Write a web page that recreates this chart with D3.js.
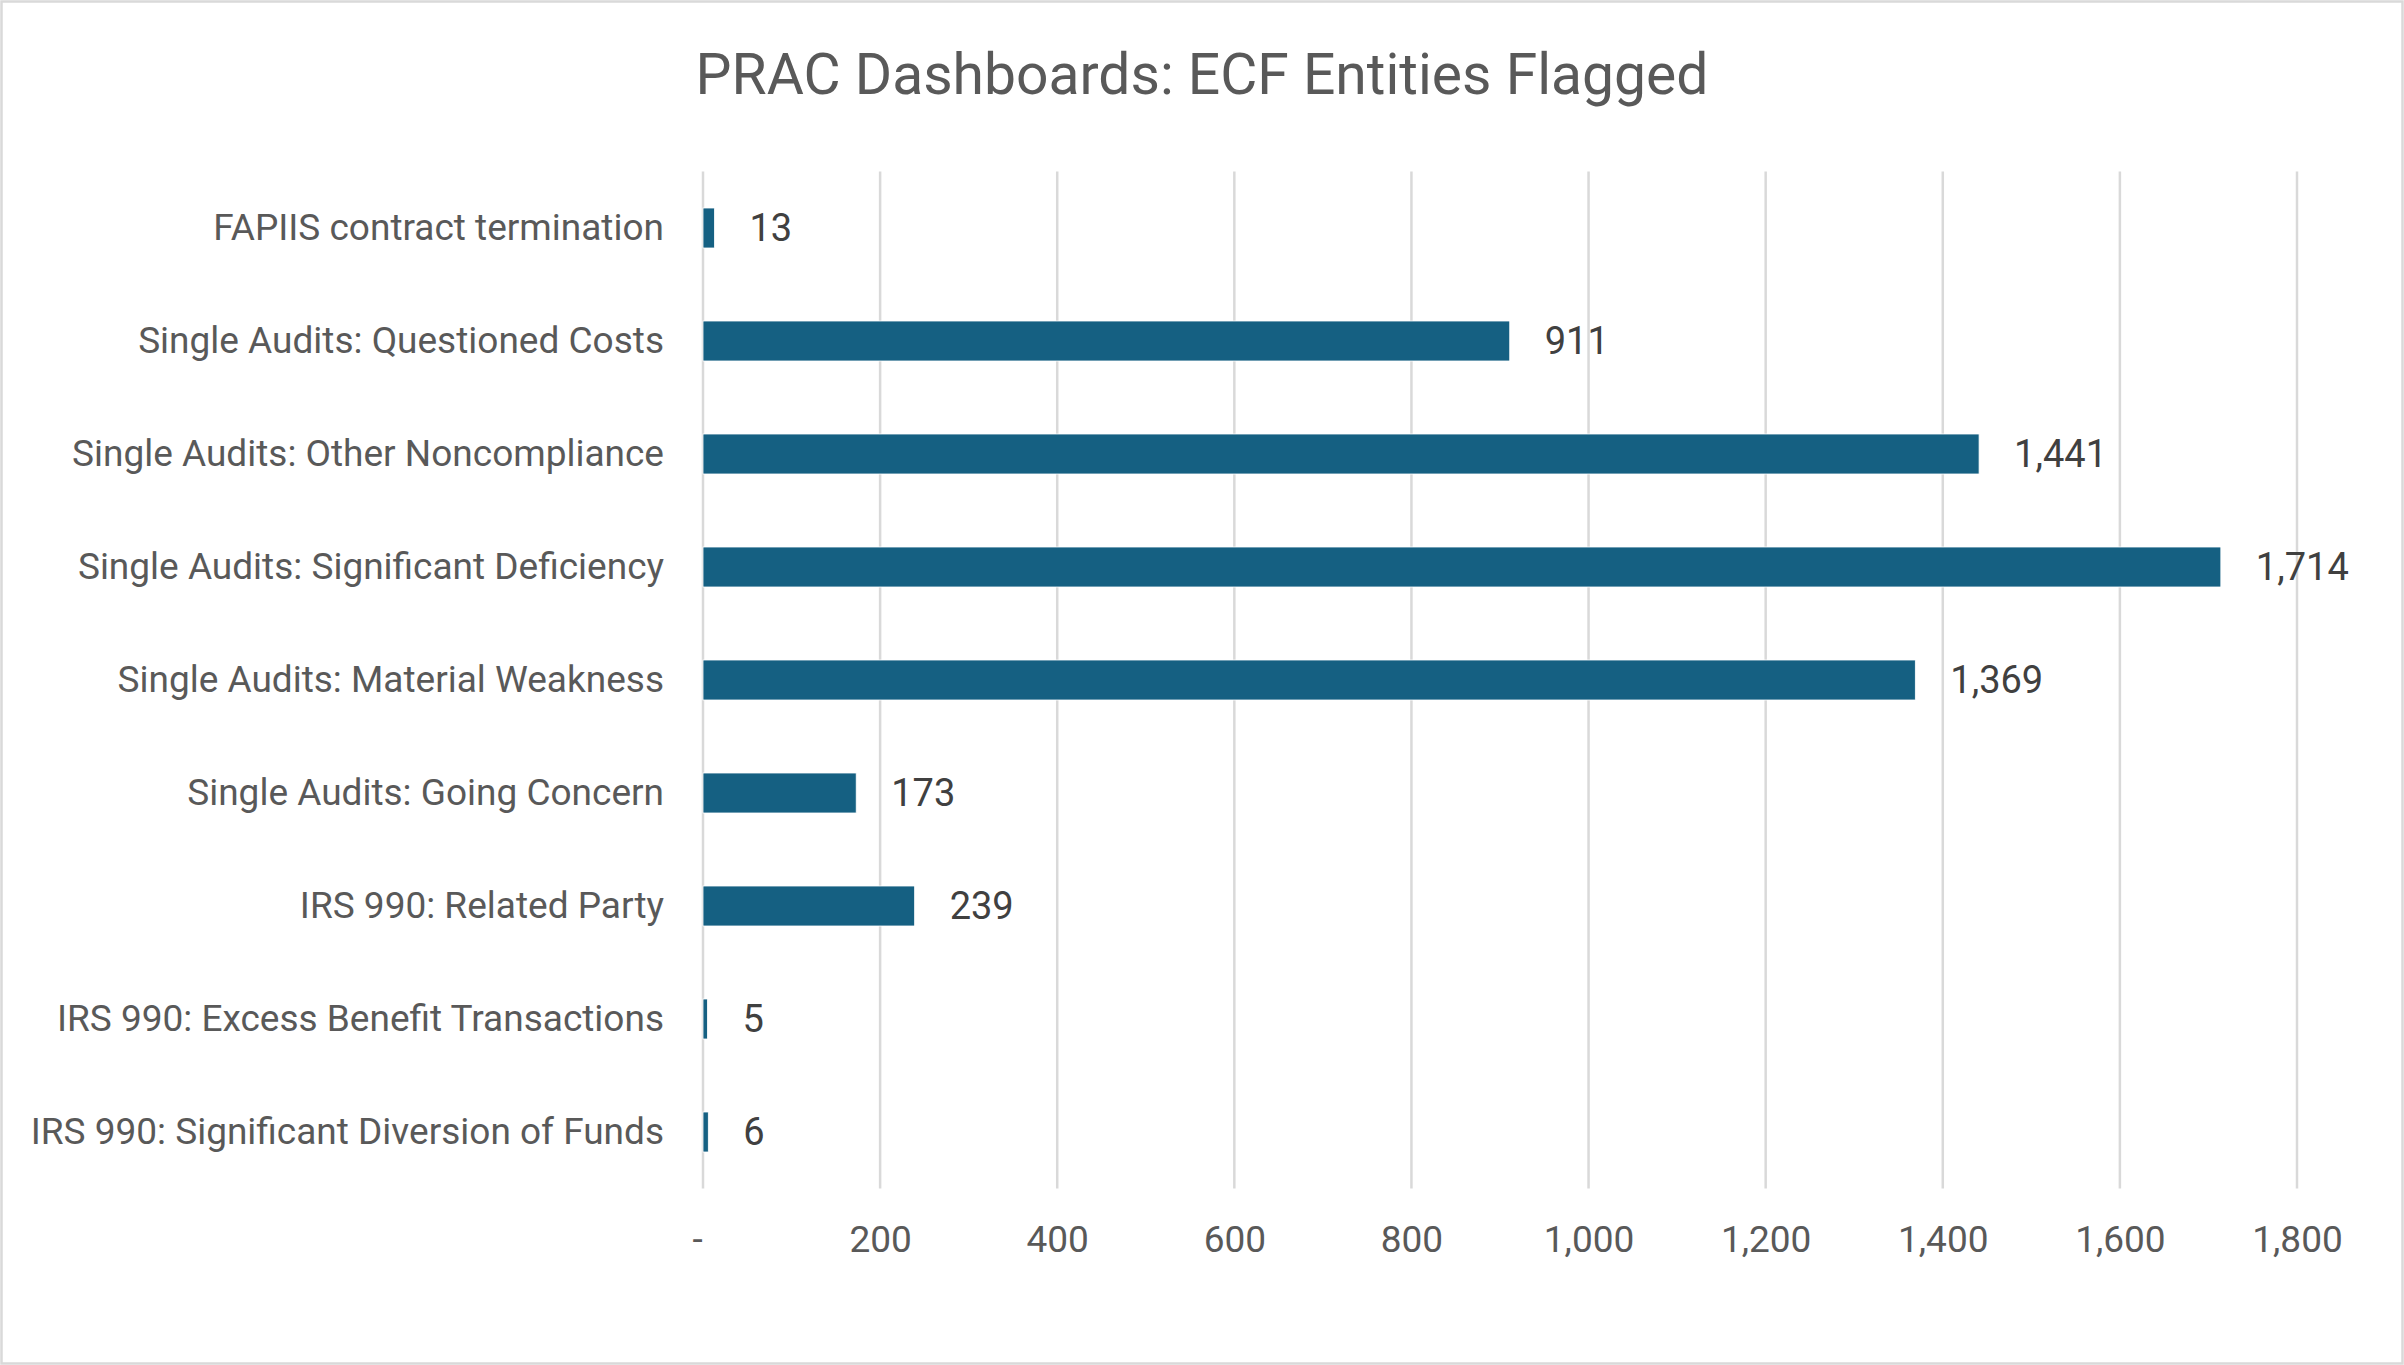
<!DOCTYPE html>
<html>
<head>
<meta charset="utf-8">
<script src="https://cdn.jsdelivr.net/npm/d3@7/dist/d3.min.js"></script>
<style>
  html, body { margin: 0; padding: 0; background: #ffffff; }
  svg { display: block; }
</style>
</head>
<body>
<svg id="chart" width="2404" height="1365"></svg>
<script>
const title = "PRAC Dashboards: ECF Entities Flagged";
const categories = [
  "FAPIIS contract termination",
  "Single Audits: Questioned Costs",
  "Single Audits: Other Noncompliance",
  "Single Audits: Significant Deficiency",
  "Single Audits: Material Weakness",
  "Single Audits: Going Concern",
  "IRS 990: Related Party",
  "IRS 990: Excess Benefit Transactions",
  "IRS 990: Significant Diversion of Funds"
];
const values = [13, 911, 1441, 1714, 1369, 173, 239, 5, 6];
const xTicks = [0, 200, 400, 600, 800, 1000, 1200, 1400, 1600, 1800];

const W = 2404, H = 1365;
const FONT = "Roboto, 'Noto Sans', sans-serif";
const margin = { top: 171.5, right: 107, bottom: H - 1188.5, left: 703 };

const svg = d3.select("#chart");

// outer border
svg.append("rect")
  .attr("x", 1.5).attr("y", 1.5)
  .attr("width", W - 3).attr("height", H - 3)
  .attr("fill", "#ffffff")
  .attr("stroke", "#d9d9d9")
  .attr("stroke-width", 2.5);

const x = d3.scaleLinear().domain([0, 1800]).range([margin.left, W - margin.right]);
const y = d3.scaleBand().domain(categories)
  .range([margin.top, H - margin.bottom])
  .paddingInner(0.646).paddingOuter(0.323);

// title
svg.append("text")
  .attr("x", W / 2).attr("y", 94)
  .attr("text-anchor", "middle")
  .attr("font-family", FONT)
  .attr("font-size", 57)
  .attr("fill", "#595959")
  .text(title);

// gridlines
svg.append("g").selectAll("line").data(xTicks).join("line")
  .attr("x1", d => x(d)).attr("x2", d => x(d))
  .attr("y1", margin.top).attr("y2", H - margin.bottom)
  .attr("stroke", "#d9d9d9").attr("stroke-width", 2.5);

// x axis labels
const xAxis = d3.axisBottom(x).tickValues(xTicks)
  .tickSize(0).tickPadding(0)
  .tickFormat(d => d === 0 ? "-" : d3.format(",")(d));
const gx = svg.append("g")
  .attr("transform", `translate(0, ${H - margin.bottom})`)
  .call(xAxis);
gx.select(".domain").remove();
gx.selectAll("text")
  .attr("font-family", FONT).attr("font-size", 37)
  .attr("fill", "#595959")
  .attr("y", 51).attr("dy", "0.35em")
  .attr("dx", d => d === 0 ? -6 : 0);

// y axis labels
const yAxis = d3.axisLeft(y).tickSize(0).tickPadding(39);
const gy = svg.append("g")
  .attr("transform", `translate(${margin.left}, 0)`)
  .call(yAxis);
gy.select(".domain").remove();
gy.selectAll("text")
  .attr("font-family", FONT).attr("font-size", 37)
  .attr("fill", "#595959");

// bars
svg.append("g").selectAll("rect").data(values).join("rect")
  .attr("x", x(0))
  .attr("y", (d, i) => y(categories[i]))
  .attr("width", d => x(d) - x(0))
  .attr("height", y.bandwidth())
  .attr("fill", "#156082")
  .attr("stroke", "#ffffff")
  .attr("stroke-width", 0.8);

// value labels
svg.append("g").selectAll("text").data(values).join("text")
  .attr("x", d => x(d) + 35)
  .attr("y", (d, i) => y(categories[i]) + y.bandwidth() / 2)
  .attr("dy", "0.35em")
  .attr("font-family", FONT).attr("font-size", 38)
  .attr("fill", "#404040")
  .text(d => d3.format(",")(d));
</script>
</body>
</html>
